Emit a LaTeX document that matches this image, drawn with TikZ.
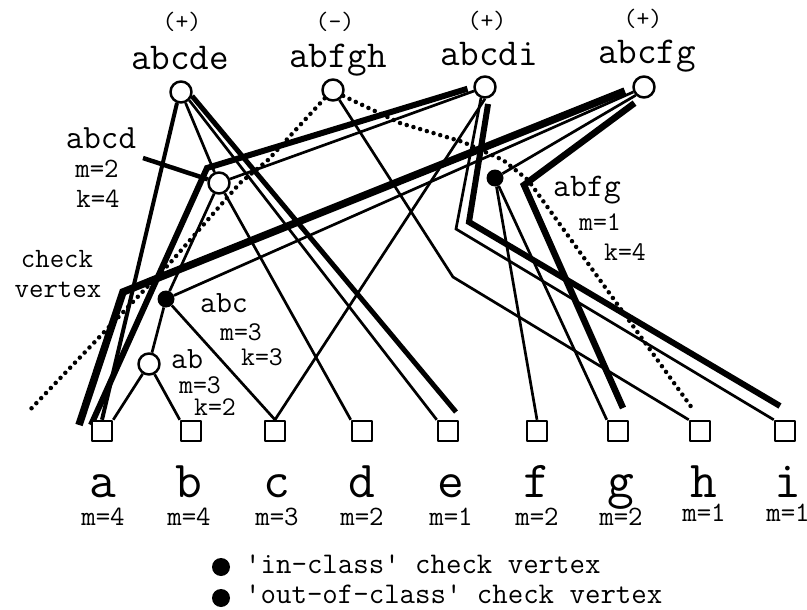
\documentclass[tikz,border=0pt]{standalone}
\usetikzlibrary{backgrounds}
\newcommand{\fsz}[1]{\ttfamily\fontsize{#1}{#1}\selectfont}
\tikzset{every picture/.style = {x=1pt, y=-1pt, line join=round}}
\tikzset{vtx/.style = {draw, circle, line width=2.5pt, fill=white, minimum size=21pt, inner sep=0}}
\tikzset{chk/.style = {fill, circle, minimum size=17pt, inner sep=0}}
\tikzset{item/.style = {draw, rectangle, line width=2.5pt, fill=white, minimum size=20pt, inner sep=0}}
\tikzset{fine/.style = {line width=2.7pt}}
\tikzset{mid/.style = {line width=4pt}}
\tikzset{heavy/.style = {line width=6pt}}
\tikzset{dots/.style = {line width=4.5pt, line cap=round, dash pattern=on 0pt off 7pt}}
\tikzset{lbl/.style = {anchor=base, inner sep=0}}

\begin{document}
\begin{tikzpicture}
  \useasboundingbox (0,0) rectangle (807,610);
  \node(abcde)[vtx] at (181,92){};
  \node(abfgh)[vtx] at (333,90){};
  \node(abcdi)[vtx] at (485,87){};
  \node(abcfg)[vtx] at (644,87){};
  \node(abcd)[vtx] at (219,183){};
  \node(abfg)[chk] at (495,178){};
  \node(abc)[chk] at (166,299){};
  \node(ab)[vtx] at (149,364){};
  \foreach \n/\x/\lx/\m/\my in {a/102/103/4/525, b/191/189/4/525, c/275/277/3/525,
      d/362/362/2/525, e/448/451/1/525, f/537/537/2/525, g/618/621/2/525,
      h/700/704/1/521, i/785/788/1/521}{
    \node(\n)[item] at (\x,431){};
    \node(\n-t)[lbl, font=\fsz{52}] at (\lx,497){\n};
    \node(\n-m)[lbl, font=\fsz{28}] at (\lx,\my){m=\m};
  }

  \node(abcde-s)[lbl, font=\fsz{25}] at (182,30){(+)};
  \node(abcde-t)[lbl, font=\fsz{38}] at (180,70){abcde};
  \node(abfgh-s)[lbl, font=\fsz{25}] at (335,30){(-)};
  \node(abfgh-t)[lbl, font=\fsz{38}] at (338,68){abfgh};
  \node(abcdi-s)[lbl, font=\fsz{25}] at (487,29){(+)};
  \node(abcdi-t)[lbl, font=\fsz{38}] at (489,66){abcdi};
  \node(abcfg-s)[lbl, font=\fsz{25}] at (643,27){(+)};
  \node(abcfg-t)[lbl, font=\fsz{38}] at (647,64){abcfg};

  \node(abcd-t)[lbl, font=\fsz{34}] at (101,148){abcd};
  \node(abcd-m)[lbl, font=\fsz{28}] at (97,178){m=2};
  \node(abcd-k)[lbl, font=\fsz{28}] at (98,207){k=4};
  \node(abfg-t)[lbl, font=\fsz{33}] at (587,196){abfg};
  \node(abfg-m)[lbl, font=\fsz{27}] at (600,230){m=1};
  \node(abfg-k)[lbl, font=\fsz{27}] at (625,260){k=4};
  \node(abc-t)[lbl, font=\fsz{31}] at (224,312){abc};
  \node(abc-m)[lbl, font=\fsz{27}] at (241,340){m=3};
  \node(abc-k)[lbl, font=\fsz{27}] at (262,365){k=3};
  \node(ab-t)[lbl, font=\fsz{31}] at (187,368){ab};
  \node(ab-m)[lbl, font=\fsz{27}] at (200,393){m=3};
  \node(ab-k)[lbl, font=\fsz{27}] at (215,415){k=2};
  \node(cv-t1)[lbl, font=\fsz{28}] at (57,267){check};
  \node(cv-t2)[lbl, font=\fsz{28}] at (58,297){vertex};

  \node(inleg)[chk, minimum size=18pt] at (221,567){};
  \node(inleg-t)[lbl, anchor=base west, font=\fsz{30}] at (245,573){\textquotesingle in-class\textquotesingle{} check vertex};
  \node(outleg)[chk, minimum size=18pt] at (221,598){};
  \node(outleg-t)[lbl, anchor=base west, font=\fsz{30}] at (245,603){\textquotesingle out-of-class\textquotesingle{} check vertex};

  \begin{scope}[on background layer]
    \coordinate(cv) at (123,292);
    \coordinate(a1) at (79,425);
    \coordinate(k1) at (207,168);
    \coordinate(a2) at (91,425);
    \coordinate(g1) at (524,185);
    \coordinate(g2) at (623,408);
    \coordinate(i1) at (456,229);
    \coordinate(i2) at (469,222);
    \coordinate(i3) at (780,406);
    \coordinate(e1) at (456,412);
    \coordinate(h1) at (453,277);
    \coordinate(lead) at (143,158);
    \coordinate(p1) at (268,160);
    \coordinate(p2) at (240,183);
    \coordinate(p3) at (170,263);
    \coordinate(p4) at (27,413);
    \coordinate(q1) at (400,123);
    \coordinate(q2) at (463,142);
    \coordinate(q3) at (503,160);
    \coordinate(q4) at (528,180);
    \coordinate(q5) at (692,408);

    \draw[heavy, line width=7.5pt, shorten <=8pt] (abcfg.185) -- (cv) -- (a1);
    \draw[heavy, shorten <=6pt] (abcdi.180) -- (k1) -- (a2);
    \draw[heavy, line width=6.5pt, shorten <=8pt] (abcfg.255) -- (g1) -- (g2);
    \draw[heavy, shorten <=6pt] (abcdi.290) -- (i2) -- (i3);
    \draw[heavy, line width=5pt] (abcde.340) -- (e1);
    \draw[mid] (abcde.250) -- (a.north);
    \draw[mid, line width=4.5pt] (lead) -- (abcd);

    \draw[fine] (abcfg.205) -- (abc);
    \draw[fine] (abcfg.225) -- (abfg);
    \draw[fine] (abcdi.200) -- (abcd);
    \draw[fine] (abcdi.250) -- (i1) -- (i.north west);
    \draw[fine] (abcdi.south) -- (c.north);
    \draw[fine] (abcde) -- (abcd);
    \draw[fine] (abcde.315) -- (e.north west);
    \draw[fine] (abcd) -- (d.north west);
    \draw[fine] (abcd) -- (abc);
    \draw[fine] (abc) -- (ab);
    \draw[fine] (abc) -- (c.north);
    \draw[fine] (ab) -- (a.north east);
    \draw[fine] (ab) -- (b.north west);
    \draw[fine] (abfg) -- (f.north);
    \draw[fine] (abfg) -- (g.north west);
    \draw[fine] (abfgh) -- (h1) -- (h.north west);

    \draw[dots] (abfgh.225) -- (p1) -- (p2) -- (p3) -- (p4);
    \draw[dots] (abfgh.330) -- (q1) -- (q2) -- (q3) -- (q4) -- (q5);
  \end{scope}
\end{tikzpicture}
\end{document}
